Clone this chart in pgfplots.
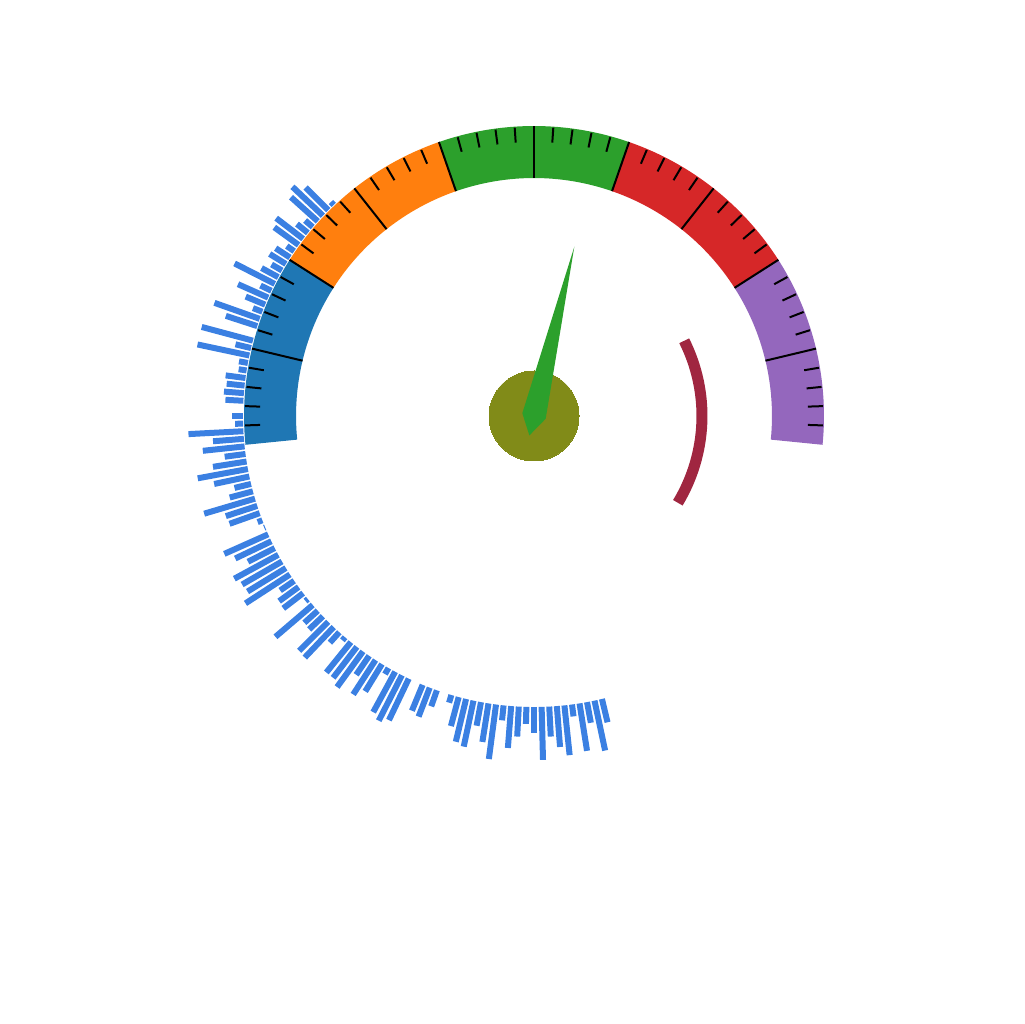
\documentclass[border=0pt]{standalone}
\usepackage{pgfplots}
\usepackage{pgfplotstable}
\pgfplotsset{compat=1.18}

\definecolor{gblue}{RGB}{31,119,180}
\definecolor{gorange}{RGB}{255,127,14}
\definecolor{ggreen}{RGB}{44,160,44}
\definecolor{gred}{RGB}{214,39,40}
\definecolor{gpurple}{RGB}{148,103,189}
\definecolor{barblue}{RGB}{59,128,226}
\definecolor{hubolive}{RGB}{129,139,24}
\definecolor{rangered}{RGB}{160,38,64}

% radial bars: angle (deg), inner radius, length
\pgfplotstableread{
ang r0 len
133.5 291 4
135.0 291 32
136.5 291 42
138.0 291 36
139.5 291 10
141.0 291 14
142.5 291 34
144.0 291 30
145.5 291 9
147.0 291 17
148.5 291 19
150.0 291 12
151.5 291 19
153.0 291 45
154.5 291 12
156.0 291 33
157.5 291 21
159.0 291 10
160.5 291 48
162.0 291 33
163.5 291 0
165.0 291 53
166.5 291 16
168.0 291 53
169.5 291 9
171.0 291 8
172.5 291 20
174.0 291 18
175.5 291 20
177.0 291 18
178.5 291 0
180.0 291 11
181.5 291 8
183.0 291 55
184.5 291 31
186.0 291 42
187.5 291 21
189.0 291 34
190.5 291 51
192.0 291 36
193.5 291 17
195.0 291 24
196.5 291 53
198.0 291 33
199.5 291 32
201.0 291 5
202.5 291 1
204.0 291 48
205.5 291 40
207.0 291 30
208.5 291 50
210.0 291 46
211.5 291 45
213.0 291 53
214.5 291 17
216.0 291 24
217.5 291 25
219.0 291 3
220.5 291 49
222.0 291 18
223.5 291 19
225.0 291 41
226.5 291 42
228.0 291 14
229.5 291 4
231.0 291 39
232.5 291 39
234.0 291 44
235.5 291 23
237.0 291 41
238.5 291 32
240.0 291 7
241.5 291 46
243.0 291 51
244.5 291 46
246.0 291 0
247.5 291 28
249.0 291 31
250.5 291 17
252.0 291 0
253.5 291 8
255.0 291 30
256.5 291 44
258.0 291 47
259.5 291 24
261.0 291 39
262.5 291 55
264.0 291 15
265.5 291 42
267.0 291 30
268.5 291 17
270.0 291 26
271.5 291 53
273.0 291 30
274.5 291 41
276.0 291 50
277.5 291 12
279.0 291 48
280.5 291 21
282.0 291 51
283.5 291 24
}\bars

% gauge scale: major ticks across the band, minor ticks at the rim
\pgfplotstableread{
ang r0 len
166.56 238 52
147.42 238 52
128.28 238 52
109.14 238 52
90.00 238 52
70.86 238 52
51.72 238 52
32.58 238 52
13.44 238 52
181.87 274 15
178.04 274 15
174.22 274 15
170.39 274 15
162.73 274 15
158.90 274 15
155.08 274 15
151.25 274 15
143.59 274 15
139.76 274 15
135.94 274 15
132.11 274 15
124.45 274 15
120.62 274 15
116.80 274 15
112.97 274 15
105.31 274 15
101.48 274 15
97.66 274 15
93.83 274 15
86.17 274 15
82.34 274 15
78.52 274 15
74.69 274 15
67.03 274 15
63.20 274 15
59.38 274 15
55.55 274 15
47.89 274 15
44.06 274 15
40.24 274 15
36.41 274 15
28.75 274 15
24.92 274 15
21.10 274 15
17.27 274 15
9.61 274 15
5.78 274 15
1.96 274 15
-1.87 274 15
}\ticks

\newcommand{\band}[3]{%
  \fill[#1] ([shift={(#2:290pt)}]axis cs:0,0) arc[start angle=#2, end angle=#3, radius=290pt]
    -- ([shift={(#3:238pt)}]axis cs:0,0) arc[start angle=#3, end angle=#2, radius=238pt] -- cycle;}

\begin{document}
\begin{tikzpicture}
\begin{axis}[
  width=1024pt, height=1024pt, scale only axis,
  xmin=-534, xmax=490, ymin=-608, ymax=416,
  hide axis, clip=false, set layers,
]
\path (rel axis cs:0,0) rectangle (rel axis cs:1,1);

\addplot[barblue, line width=6pt,
  quiver={u=\thisrow{len}*cos(\thisrow{ang}), v=\thisrow{len}*sin(\thisrow{ang})}]
  table[x expr={\thisrow{r0}*cos(\thisrow{ang})}, y expr={\thisrow{r0}*sin(\thisrow{ang})}] {\bars};

\band{gblue}{185.7}{147.42}
\band{gorange}{147.42}{109.14}
\band{ggreen}{109.14}{70.86}
\band{gred}{70.86}{32.58}
\band{gpurple}{32.58}{-5.7}

\addplot[black, line width=2pt,
  quiver={u=\thisrow{len}*cos(\thisrow{ang}), v=\thisrow{len}*sin(\thisrow{ang})}]
  table[x expr={\thisrow{r0}*cos(\thisrow{ang})}, y expr={\thisrow{r0}*sin(\thisrow{ang})}] {\ticks};

\draw[rangered, line width=11pt] ([shift={(26.6:168pt)}]axis cs:0,0) arc[start angle=26.6, end angle=-31.1, radius=168pt];

\addplot[hubolive, only marks, mark=*, mark size=45pt, mark options={fill=hubolive, draw=hubolive, line width=0pt}] coordinates {(0,0)};
\addplot[fill=ggreen, draw=none, data cs=polar, on layer=axis foreground] coordinates {(76.6,174) (-13.4,12) (256.6,20) (166.6,12)} -- cycle;
\end{axis}
\end{tikzpicture}
\end{document}
